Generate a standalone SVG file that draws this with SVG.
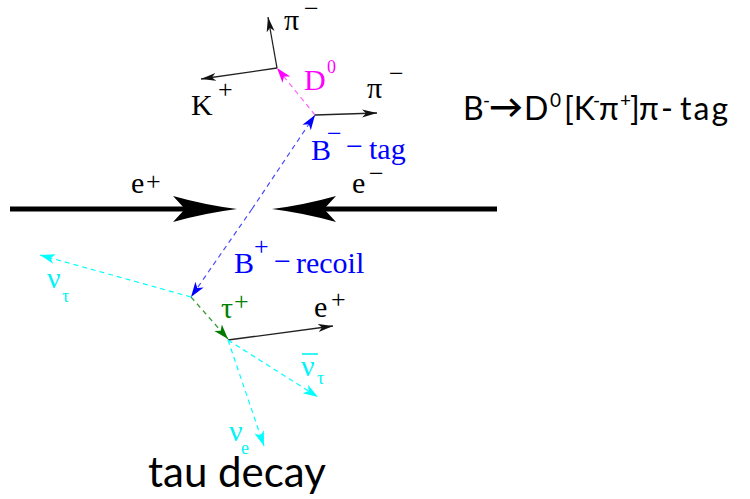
<svg xmlns="http://www.w3.org/2000/svg" width="750" height="499" viewBox="0 0 750 499">
<style>
.lbl{font-family:"Liberation Serif","Times New Roman",serif;font-size:30px}
.sup{font-family:"Liberation Serif","Times New Roman",serif;font-size:26px}
.sub{font-family:"Liberation Serif","Times New Roman",serif;font-size:18px}
.k{fill:#000}
.blue{fill:#0000ff}
.mag{fill:#ff00ff}
.cyan{fill:#00f4f4}
.green{fill:#008000}
.solid{stroke:#222;stroke-width:1.3;fill:none}
.dash{stroke-width:1.2;fill:none;stroke-dasharray:5 4}
.sans{font-family:Lato,"Open Sans","DejaVu Sans",sans-serif;fill:#000}
.t{font-family:Lato,"Open Sans","DejaVu Sans",sans-serif;font-size:32px;fill:#000}
.ts{font-family:Lato,"Open Sans","DejaVu Sans",sans-serif;font-size:19px;fill:#000}
</style>
<defs>
<marker id="ah-k" markerWidth="16" markerHeight="10" refX="15" refY="5" orient="auto" markerUnits="userSpaceOnUse"><path d="M0,1 L15,5 L0,9 L4,5 z" fill="#111"/></marker>
<marker id="ah-b" markerWidth="16" markerHeight="12" refX="15" refY="6" orient="auto" markerUnits="userSpaceOnUse"><path d="M0,1 L15,6 L0,11 L4,6 z" fill="#0000ff"/></marker>
<marker id="ah-m" markerWidth="16" markerHeight="12" refX="15" refY="6" orient="auto" markerUnits="userSpaceOnUse"><path d="M0,1 L15,6 L0,11 L4,6 z" fill="#ff00ff"/></marker>
<marker id="ah-c" markerWidth="16" markerHeight="12" refX="15" refY="6" orient="auto" markerUnits="userSpaceOnUse"><path d="M0,1 L15,6 L0,11 L4,6 z" fill="#00ffff"/></marker>
<marker id="ah-g" markerWidth="16" markerHeight="12" refX="15" refY="6" orient="auto" markerUnits="userSpaceOnUse"><path d="M0,1 L15,6 L0,11 L4,6 z" fill="#007a00"/></marker>
</defs>
<rect width="750" height="499" fill="#fff"/>

<g id="connectors">
  <line x1="10" y1="209" x2="188" y2="209" stroke="#000" stroke-width="5"/>
  <path d="M237,209 Q205,205 173,196 L185,209 L173,222 Q205,213 237,209 z" fill="#000"/>
  <line x1="322" y1="209" x2="497" y2="209" stroke="#000" stroke-width="5"/>
  <path d="M272,209 Q304,205 336,196 L324,209 L336,222 Q304,213 272,209 z" fill="#000"/>
  <line x1="252" y1="209" x2="315" y2="115" class="dash" stroke="#4a4aff" marker-end="url(#ah-b)"/>
  <line x1="315" y1="115" x2="277" y2="68" class="dash" stroke="#ff66ff" marker-end="url(#ah-m)"/>
  <line x1="277" y1="68" x2="268" y2="17" class="solid" marker-end="url(#ah-k)"/>
  <line x1="277" y1="68" x2="201" y2="79" class="solid" marker-end="url(#ah-k)"/>
  <line x1="315" y1="115" x2="377" y2="113" class="solid" marker-end="url(#ah-k)"/>
  <line x1="252" y1="209" x2="191" y2="297" class="dash" stroke="#4a4aff" marker-end="url(#ah-b)"/>
  <line x1="191" y1="297" x2="40" y2="255" class="dash" stroke="#00ffff" marker-end="url(#ah-c)"/>
  <line x1="191" y1="297" x2="228" y2="339" class="dash" stroke="#3a9a3a" marker-end="url(#ah-g)"/>
  <line x1="228" y1="340" x2="333" y2="326" class="solid" marker-end="url(#ah-k)"/>
  <line x1="228" y1="340" x2="318" y2="397" class="dash" stroke="#00ffff" marker-end="url(#ah-c)"/>
  <line x1="228" y1="340" x2="264" y2="446" class="dash" stroke="#00ffff" marker-end="url(#ah-c)"/>
</g>

<g id="lbl-eplus-beam" class="k">
  <text class="lbl" x="131" y="193">e</text>
  <text class="sup" x="146" y="189.5">+</text>
</g>
<g id="lbl-eminus-beam" class="k">
  <text class="lbl" x="352" y="193">e</text>
  <text class="sup" x="369" y="181.5">−</text>
</g>
<g id="lbl-pi-top" class="k">
  <text class="lbl" x="284" y="30">π</text>
  <text class="sup" x="304" y="17">−</text>
</g>
<g id="lbl-Kplus" class="k">
  <text class="lbl" x="191" y="115">K</text>
  <text class="sup" x="218" y="97.5">+</text>
</g>
<g id="lbl-D0" class="mag">
  <text class="lbl" x="304" y="90" font-size="27">D</text>
  <text class="sub" x="327" y="73" font-size="16">0</text>
</g>
<g id="lbl-pi-right" class="k">
  <text class="lbl" x="367" y="98">π</text>
  <text class="sup" x="389" y="81.5">−</text>
</g>
<g id="lbl-Btag" class="blue">
  <text class="lbl" x="311" y="160">B</text>
  <text class="sup" x="327" y="141.5">−</text>
  <text class="lbl" x="346" y="155.5">−</text>
  <text class="lbl" x="369" y="159" font-size="24">tag</text>
</g>
<g id="lbl-Brecoil" class="blue">
  <text class="lbl" x="234" y="273">B</text>
  <text class="sup" x="254" y="254.5">+</text>
  <text class="lbl" x="274" y="270.5">−</text>
  <text class="lbl" x="296" y="273" font-size="25">recoil</text>
</g>
<g id="lbl-nutau" class="cyan">
  <text class="lbl" x="47" y="288">ν</text>
  <text class="sub" x="62" y="302">τ</text>
</g>
<g id="lbl-tau" class="green">
  <text class="lbl" x="221" y="318">τ</text>
  <text class="sup" x="234" y="309.5">+</text>
</g>
<g id="lbl-eplus" class="k">
  <text class="lbl" x="314" y="317">e</text>
  <text class="sup" x="331" y="307.5">+</text>
</g>
<g id="lbl-nubar" class="cyan">
  <line x1="302" y1="354" x2="318" y2="354" stroke="#00f4f4" stroke-width="1.6"/>
  <text class="lbl" x="301" y="376">ν</text>
  <text class="sub" x="317" y="384">τ</text>
</g>
<g id="lbl-nue" class="cyan">
  <text class="lbl" x="229" y="441" font-size="27">ν</text>
  <text class="sub" x="241" y="454" font-size="17">e</text>
</g>

<g id="title">
  <text class="t" x="463" y="120">B</text>
  <text class="ts" x="483" y="107">-</text>
  <text class="t" x="489" y="118" font-family="DejaVu Sans" font-weight="bold" font-size="30" textLength="34" lengthAdjust="spacingAndGlyphs">→</text>
  <text class="t" x="524" y="120">D</text>
  <text class="ts" x="550" y="107" font-size="21">0</text>
  <text class="t" x="564" y="120">[K</text>
  <text class="ts" x="593" y="107">-</text>
  <text class="t" x="599" y="120" font-family="DejaVu Sans" font-size="30">π</text>
  <text class="ts" x="620" y="107">+</text>
  <text class="t" x="630" y="120">]</text>
  <text class="t" x="639" y="120" font-family="DejaVu Sans" font-size="30">π</text>
  <text class="t" x="661" y="120">-</text>
  <text class="t" x="680" y="120" font-size="34" letter-spacing="2">tag</text>
</g>
<g id="caption">
  <text class="sans" x="148" y="487" font-size="42">tau decay</text>
</g>
</svg>
